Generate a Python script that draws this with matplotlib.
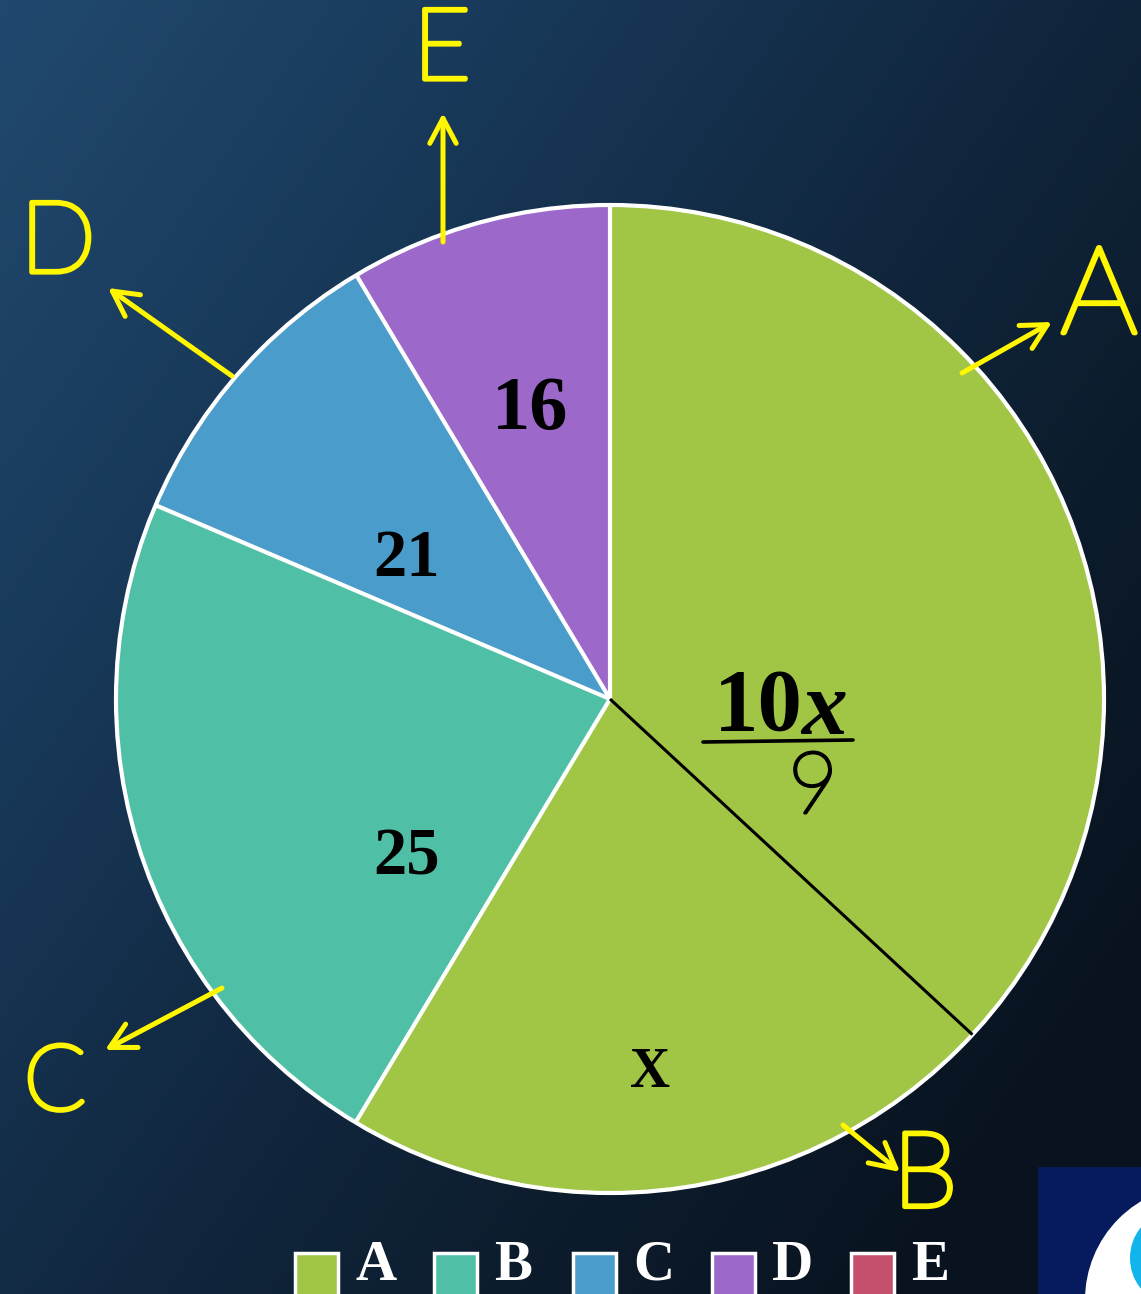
import numpy as np
import matplotlib
matplotlib.use("Agg")
import matplotlib.pyplot as plt
from matplotlib.patches import Rectangle, Circle, Ellipse
from matplotlib.colors import LinearSegmentedColormap
import matplotlib.patheffects as pe

# ---- data -------------------------------------------------------------
categories = ["A", "B", "C", "D", "E"]
# angular share of each slice (degrees, clockwise from 12 o'clock)
slice_sizes = [132.8, 78.2, 82.1, 36.0, 30.9]
slice_colors = ["#A1C545", "#A1C545", "#4FBFA6", "#4A9CCB", "#9C68C9"]
legend_colors = ["#A1C545", "#4FBFA6", "#4A9CCB", "#9C68C9", "#C4506C"]
value_labels = ["16", "21", "25", "X"]

W, H = 1141, 1294


def P(x, y):
    """pixel position (origin top-left) -> axes data coordinates"""
    return x, H - y


fig = plt.figure(figsize=(W / 100, H / 100), dpi=100)
ax = fig.add_axes([0, 0, 1, 1])
ax.set_xlim(0, W)
ax.set_ylim(0, H)
ax.set_aspect("equal")
ax.axis("off")

# ---- background: dark blue gradient ---------------------------------
yy, xx = np.mgrid[0:H, 0:W]
t = np.clip((0.75 * xx / W + 0.6 * yy / H) / 1.2, 0, 1)
bg_cmap = LinearSegmentedColormap.from_list(
    "bg", [(0.0, "#21496f"), (0.3, "#183858"), (0.55, "#112840"),
           (0.8, "#0c1b2b"), (1.0, "#09131f")])
ax.imshow(t, cmap=bg_cmap, extent=[0, W, 0, H], origin="upper",
          zorder=0, aspect="auto", vmin=0, vmax=1)

# ---- pie ---------------------------------------------------------------
cx, cy = P(610, 699)
R = 494
wedges, _ = ax.pie(slice_sizes, colors=slice_colors, startangle=90,
                   counterclock=False, center=(cx, cy), radius=R,
                   wedgeprops=dict(edgecolor="none", linewidth=0))
for w in wedges:
    w.set_zorder(2)
ax.set_xlim(0, W)
ax.set_ylim(0, H)

# outer rim
ax.add_patch(Circle((cx, cy), R, fill=False, edgecolor="white", lw=3, zorder=4))
# slice separators: each wedge's clockwise end edge (A|B in thin black)
for i, w in enumerate(wedges):
    th = np.deg2rad(w.theta1)
    x2, y2 = cx + R * np.cos(th), cy + R * np.sin(th)
    if i == 0:
        ax.plot([cx, x2], [cy, y2], color="black", lw=2.2, zorder=5,
                solid_capstyle="butt")
    else:
        ax.plot([cx, x2], [cy, y2], color="white", lw=3, zorder=4,
                solid_capstyle="butt")

# ---- value labels -------------------------------------------------------
serif = "Liberation Serif"
lab_pos = [(530, 410), (407, 560), (407, 858), (650, 1073)]
lab_size = [55, 48, 48, 40]
for txt, (px, py), fs in zip(value_labels, lab_pos, lab_size):
    ax.text(*P(px, py), txt, family=serif, weight="bold", fontsize=fs,
            ha="center", va="center", color="black", zorder=6)

# 10x / 9
ax.text(*P(714, 708), "10", family=serif, weight="bold", fontsize=64,
        ha="left", va="center", color="black", zorder=6)
ax.text(*P(801, 712), "x", family=serif, weight="bold", style="italic",
        fontsize=66, ha="left", va="center", color="black", zorder=6)
ax.plot([P(703, 742)[0], P(853, 742)[0]], [P(703, 742)[1], P(853, 740)[1]],
        color="black", lw=2.6, zorder=6, solid_capstyle="round")
ax.text(*P(813, 790), "9", family="Lato", weight="light", fontsize=62,
        ha="center", va="center", color="black", zorder=6,
        path_effects=[pe.withStroke(linewidth=2.2, foreground="black")])

# ---- hand annotations ---------------------------------------------------
yel = "#FFF600"
pen = [pe.withStroke(linewidth=3.4, foreground=yel)]
hand = dict(family="Lato", weight="light", color=yel, zorder=7,
            va="center", path_effects=pen)
ax.text(*P(442, 52), "E", fontsize=72, ha="center", **hand)
ax.text(*P(58, 245), "D", fontsize=72, ha="center", **hand)
ax.text(*P(1138, 300), "A", fontsize=88, ha="right", **hand)
ax.text(*P(55, 1085), "C", fontsize=66, ha="center", **hand)
ax.text(*P(925, 1178), "B", fontsize=76, ha="center", **hand)

arrows = [((443, 242), (443, 113)),
          ((232, 376), (108, 288)),
          ((962, 373), (1052, 322)),
          ((222, 988), (105, 1050)),
          ((843, 1125), (900, 1172))]
for start, end in arrows:
    ax.annotate("", xy=P(*end), xytext=P(*start),
                arrowprops=dict(arrowstyle="->,head_length=1.8,head_width=0.95",
                                color=yel, lw=3.6, shrinkA=0, shrinkB=0,
                                capstyle="round", joinstyle="round"),
                zorder=7)

# ---- legend ---------------------------------------------------------------
x0, step = 295, 139
for i, (lab, col) in enumerate(zip(categories, legend_colors)):
    sx = x0 + i * step
    ax.add_patch(Rectangle(P(sx, 1300), 43, 47, facecolor=col,
                           edgecolor="white", lw=2.5, zorder=6,
                           clip_on=False))
    ax.text(*P(sx + 60, 1266), lab, family=serif, weight="bold",
            fontsize=41, color="white", ha="left", va="center", zorder=6)

# ---- corner badge -------------------------------------------------------
ax.add_patch(Rectangle(P(1038, 1294), 120, 127, facecolor="#061a5e",
                       edgecolor="none", zorder=6))
ax.add_patch(Circle(P(1200, 1300), 115, facecolor="white",
                    edgecolor="none", zorder=7))
ax.add_patch(Ellipse(P(1165, 1258), 70, 84, facecolor="#12b4ec",
                     edgecolor="none", zorder=8))

fig.savefig("out.png", dpi=100)
